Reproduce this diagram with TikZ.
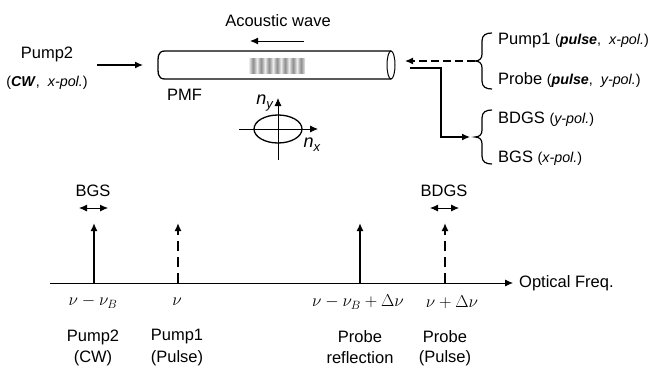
\documentclass[tikz,border=0pt]{standalone}
\usepackage{fontspec}
\setmainfont{Liberation Sans}
\usetikzlibrary{arrows.meta}
\newcommand{\curlybrace}[2]{%
    \draw[line width=1.2pt] (492,#1) .. controls (486,#1) and (482,#1+2) .. (482,#1+8)
        -- (482,#2-7) .. controls (482,#2-3) and (480,#2) .. (475,#2)
        .. controls (480,#2) and (482,#2+3) .. (482,#2+7)
        -- (482,2*#2-#1-8) .. controls (482,2*#2-#1-2) and (486,2*#2-#1) .. (492,2*#2-#1);
}
\begin{document}
\begin{tikzpicture}[
    x=1pt, y=-1pt,
    >={Latex[length=8pt,width=7pt]},
    label/.style={font=\fontsize{16.5}{16.5}\selectfont, inner sep=0pt},
    smalllabel/.style={font=\fontsize{14.3}{14.3}\selectfont, inner sep=0pt},
    freq/.style={font=\fontsize{18}{18}\selectfont, inner sep=0pt},
    beam/.style={->, line width=1.2pt},
    line/.style={->, line width=2pt},
    dashline/.style={->, line width=2pt, dash pattern=on 10pt off 6pt}
]
    \useasboundingbox (0,0) rectangle (650,367);

    % Fibre
    \draw[line width=1.3pt] (391,51) -- (165,51) .. controls (157,51) and (158,58) .. (158,65)
        .. controls (158,72) and (157,79) .. (165,79) -- (391,79);
    \draw[line width=1pt] (391,65) ellipse (4 and 14);
    \foreach \i in {0,...,6} {
        \shade[left color=gray!15, right color=gray!15, middle color=gray!90] (249+8*\i,58) rectangle (257+8*\i,73);
    }
    \node[label] (acoustic) at (278,21) {Acoustic wave};
    \coordinate (a1) at (304,41);
    \coordinate (a2) at (250,41);
    \draw[->, line width=1pt] (a1) -- (a2);
    \node[label, anchor=west] (pmf) at (167,95) {PMF};

    % Pump2 input
    \node[label] (pump2) at (47,54) {Pump2};
    \node[smalllabel] (pump2b) at (47,83) {(\textbf{\textit{CW}}, \ \textit{x-pol.})};
    \coordinate (p1) at (97,65);
    \coordinate (p2) at (143,65);
    \draw[beam] (p1) -- (p2);

    % Index ellipse
    \draw[line width=1.3pt] (278,129) ellipse (24 and 14);
    \coordinate (nyb) at (278,160);
    \coordinate (nyt) at (278,98);
    \coordinate (nxl) at (239,129);
    \coordinate (nxr) at (318,129);
    \draw[->, line width=0.8pt] (nyb) -- (nyt);
    \draw[->, line width=0.8pt] (nxl) -- (nxr);
    \node[label] (ny) at (265,103) {\fontsize{18}{18}\selectfont\textit{n}\raisebox{-4pt}{\fontsize{13}{13}\selectfont\textit{y}}};
    \node[label] (nx) at (312,145) {\fontsize{18}{18}\selectfont\textit{n}\raisebox{-4pt}{\fontsize{13}{13}\selectfont\textit{x}}};

    % Right side
    \curlybrace{33}{61}
    \curlybrace{110}{137}
    \node[label, anchor=west] (pump1) at (498,41) {Pump1 \fontsize{14.3}{14.3}\selectfont(\textbf{\textit{pulse}}, \ \textit{x-pol.})};
    \node[label, anchor=west] (probe) at (498,80) {Probe \fontsize{14.3}{14.3}\selectfont(\textbf{\textit{pulse}}, \ \textit{y-pol.})};
    \node[label, anchor=west] (bdgs) at (498,119) {BDGS \fontsize{14.3}{14.3}\selectfont(\textit{y-pol.})};
    \node[label, anchor=west] (bgs) at (498,158) {BGS \fontsize{14.3}{14.3}\selectfont(\textit{x-pol.})};
    \coordinate (d1) at (475,61);
    \coordinate (d2) at (405,61);
    \draw[beam, dash pattern=on 8pt off 4pt] (d1) -- (d2);
    \coordinate (o1) at (410,68);
    \coordinate (o2) at (470,137);
    \draw[beam] (o1) -| (441,137) -- (o2);

    % Frequency axis
    \coordinate (f0) at (50,283);
    \coordinate (f1) at (513,283);
    \draw[->, line width=0.9pt] (f0) -- (f1);
    \node[label, anchor=west] (optical) at (519,283) {Optical Freq.};
    \coordinate (s1) at (94,283);
    \coordinate (s2) at (178,283);
    \coordinate (s3) at (360,283);
    \coordinate (s4) at (445,283);
    \coordinate (t1) at (94,223);
    \coordinate (t2) at (178,223);
    \coordinate (t3) at (360,223);
    \coordinate (t4) at (445,223);
    \draw[line] (s1) -- (t1);
    \draw[dashline] (s2) -- (t2);
    \draw[line] (s3) -- (t3);
    \draw[dashline] (s4) -- (t4);

    % Widths
    \node[label] (bgstop) at (93,191) {BGS};
    \node[label] (bdgstop) at (444,191) {BDGS};
    \coordinate (w1) at (79,208);
    \coordinate (w2) at (108,208);
    \coordinate (w3) at (430,208);
    \coordinate (w4) at (459,208);
    \draw[<->, line width=0.9pt] (w1) -- (w2);
    \draw[<->, line width=0.9pt] (w3) -- (w4);

    % Frequencies
    \node[freq] (nu1) at (93,302) {$\nu-\nu_B$};
    \node[freq] (nu2) at (177,302) {$\nu$};
    \node[freq] (nu3) at (358,302) {$\nu-\nu_B+\Delta\nu$};
    \node[freq] (nu4) at (452,302) {$\nu+\Delta\nu$};

    % Names
    \node[label] (n1a) at (93,337) {Pump2};
    \node[label] (n1b) at (93,358) {(CW)};
    \node[label] (n2a) at (177,337) {Pump1};
    \node[label] (n2b) at (177,358) {(Pulse)};
    \node[label] (n3a) at (360,337) {Probe};
    \node[label] (n3b) at (360,358) {reflection};
    \node[label] (n4a) at (445,337) {Probe};
    \node[label] (n4b) at (445,358) {(Pulse)};
\end{tikzpicture}
\end{document}
